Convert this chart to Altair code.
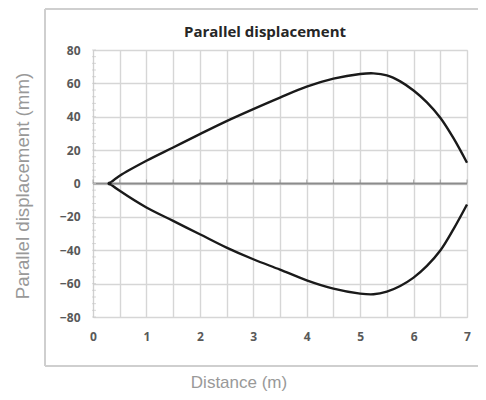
import altair as alt
import pandas as pd

# Data
distance = [0.31, 0.5, 1, 1.5, 2, 2.5, 3, 3.5, 4, 4.5, 5, 5.25, 5.5, 5.75, 6, 6.25, 6.5, 6.75, 7]
upper = [0, 4.6, 13.6, 21.6, 29.6, 37.4, 44.6, 51.5, 58.0, 62.8, 65.6, 66, 64.8, 61.2, 55.7, 48.6, 39.4, 27, 12.4]
lower = [0, -4.4, -14.4, -22.4, -30.4, -38.4, -45.4, -51.6, -58.0, -63, -66.0, -66.4, -64.8, -61.4, -56.4, -49.4, -40.2, -27.2, -12.6]

x_ticks = [i * 0.5 for i in range(15)]
y_ticks = [-80, -60, -40, -20, 0, 20, 40, 60, 80]
y_minor = [v for v in range(-80, 81, 4)]

title_text = "Parallel displacement"
y_title = "Parallel displacement (mm)"
x_title = "Distance (m)"

df = pd.DataFrame(
    {"x": distance + distance,
     "y": upper + lower,
     "branch": ["upper"] * len(distance) + ["lower"] * len(distance)}
)
ticks_df = pd.DataFrame({"x": x_ticks, "y": [0] * len(x_ticks)})
minor_df = pd.DataFrame({"y": y_minor})
zero_df = pd.DataFrame({"y": [0]})

W, H = 374, 267

xscale = alt.Scale(domain=[0, 7], nice=False, zero=False)
yscale = alt.Scale(domain=[-80, 80], nice=False)

xaxis = alt.Axis(values=x_ticks, grid=True, gridColor="#d6d6d6", gridWidth=1.4,
                 domain=False, ticks=False, labelPadding=14,
                 labelOverlap=False, labelFlush=False,
                 labelExpr="datum.value % 1 == 0 ? format(datum.value, 'd') : ''",
                 labelFont="Open Sans", labelFontWeight="bold", labelFontSize=12,
                 labelColor="#595959", title=None)
yaxis = alt.Axis(values=y_ticks, grid=True, gridColor="#d6d6d6", gridWidth=1.4,
                 domain=True, domainColor="#d0d0d0", ticks=False, labelPadding=13,
                 labelOverlap=False, labelFlush=False, format="d",
                 labelFont="Open Sans", labelFontWeight="bold", labelFontSize=12,
                 labelColor="#595959", title=None)

curves = alt.Chart(df).mark_line(color="#1a1a1a", strokeWidth=2.4, interpolate="catmull-rom").encode(
    x=alt.X("x:Q", scale=xscale, axis=xaxis),
    y=alt.Y("y:Q", scale=yscale, axis=yaxis),
    detail="branch:N",
)

zero_line = alt.Chart(zero_df).mark_rule(color="#8c8c8c", strokeWidth=2).encode(
    y=alt.Y("y:Q", scale=yscale, axis=yaxis),
    x=alt.value(0), x2=alt.value(W),
)

x_minor = alt.Chart(ticks_df).mark_tick(orient="vertical", color="#8c8c8c", size=4, thickness=1, yOffset=-2).encode(
    x=alt.X("x:Q", scale=xscale, axis=xaxis),
    y=alt.Y("y:Q", scale=yscale, axis=yaxis),
)

y_minor_ticks = alt.Chart(minor_df).mark_tick(orient="horizontal", color="#c8c8c8", size=4, thickness=1).encode(
    y=alt.Y("y:Q", scale=yscale, axis=yaxis),
    x=alt.value(1),
)

start_pt = alt.Chart(pd.DataFrame({"x": [distance[0]], "y": [0]})).mark_point(
    filled=True, color="#1a1a1a", size=18, opacity=1).encode(
    x=alt.X("x:Q", scale=xscale, axis=xaxis), y=alt.Y("y:Q", scale=yscale, axis=yaxis))

title = alt.Chart(pd.DataFrame({"t": [title_text]})).mark_text(
    font="Open Sans", fontWeight="bold", fontSize=15, color="#262626").encode(
    text="t:N", x=alt.value(172), y=alt.value(-18))

ytitle = alt.Chart(pd.DataFrame({"t": [y_title]})).mark_text(
    font="Liberation Sans", fontSize=18.7, color="#999999", angle=270).encode(
    text="t:N", x=alt.value(-70), y=alt.value(136))

xtitle = alt.Chart(pd.DataFrame({"t": [x_title]})).mark_text(
    font="Liberation Sans", fontSize=17, color="#999999", baseline="bottom").encode(
    text="t:N", x=alt.value(146), y=alt.value(342))

box_left = alt.Chart(zero_df).mark_rule(color="#cfcfcf", strokeWidth=2).encode(
    x=alt.value(-48), y=alt.value(-41), y2=alt.value(316))
box_top = alt.Chart(zero_df).mark_rule(color="#cfcfcf", strokeWidth=2).encode(
    x=alt.value(-48), x2=alt.value(390), y=alt.value(-41))
box_bottom = alt.Chart(zero_df).mark_rule(color="#cfcfcf", strokeWidth=2).encode(
    x=alt.value(-48), x2=alt.value(390), y=alt.value(316))

chart = alt.layer(
    curves, zero_line, x_minor, y_minor_ticks, start_pt, title, ytitle, xtitle,
    box_left, box_top, box_bottom
).properties(
    width=W, height=H,
    autosize=alt.AutoSizeParams(type="none"),
    padding={"left": 85, "top": 42, "right": 11, "bottom": 75},
).configure_view(stroke=None).configure(background="white")

chart.save("out.html", embed_options={"renderer": "svg", "actions": False})
